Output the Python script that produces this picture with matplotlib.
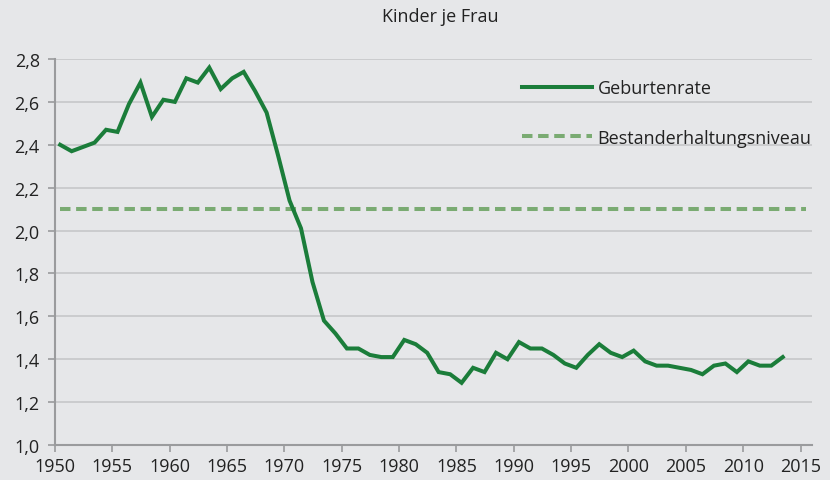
import numpy as np
import matplotlib
matplotlib.use("Agg")
import matplotlib.pyplot as plt

# Geburtenrate (Kinder je Frau), 1950-2013
years = list(range(1950, 2014))
birth_rate = [2.40, 2.37, 2.39, 2.41, 2.47, 2.46, 2.59, 2.69, 2.53, 2.61,
              2.60, 2.71, 2.69, 2.76, 2.66, 2.71, 2.74, 2.65, 2.55, 2.35,
              2.14, 2.01, 1.76, 1.58, 1.52, 1.45, 1.45, 1.42, 1.41, 1.41,
              1.49, 1.47, 1.43, 1.34, 1.33, 1.29, 1.36, 1.34, 1.43, 1.40,
              1.48, 1.45, 1.45, 1.42, 1.38, 1.36, 1.42, 1.47, 1.43, 1.41,
              1.44, 1.39, 1.37, 1.37, 1.36, 1.35, 1.33, 1.37, 1.38, 1.34,
              1.39, 1.37, 1.37, 1.41]
replacement_years = [1950, 2015]
replacement_level = [2.10, 2.10]

yticks = [1.0, 1.2, 1.4, 1.6, 1.8, 2.0, 2.2, 2.4, 2.6, 2.8]
xticks = list(range(1950, 2016, 5))

bg = "#e6e7e9"
plt.rcParams["font.family"] = ["Open Sans", "DejaVu Sans"]

fig = plt.figure(figsize=(8.3, 4.81), dpi=100, facecolor=bg)
ax = fig.add_axes([55 / 830, 1 - 446 / 481, (812 - 55) / 830, (446 - 60) / 481])
ax.set_facecolor(bg)

# points sit in the middle of each year slot
x = np.array(years) + 0.45
ax.plot(np.array(replacement_years) + 0.45, replacement_level, color="#7aab72",
        lw=2.9, dashes=(2.6, 1.4), dash_capstyle="butt",
        label="Bestanderhaltungsniveau", clip_on=False, zorder=3)
ax.plot(x, birth_rate, color="#1b7d3a", lw=2.9, label="Geburtenrate",
        solid_joinstyle="miter", clip_on=False, zorder=4)

ax.set_xlim(1950, 2016)
ax.set_ylim(1.0, 2.8)
ax.set_yticks(yticks)
ax.set_yticklabels([f"{v:.1f}".replace(".", ",") for v in yticks])
ax.set_xticks(xticks)
ax.grid(axis="y", color="#c6c7c9", lw=1.2)
ax.set_axisbelow(True)

for s in ["top", "right"]:
    ax.spines[s].set_visible(False)
for s in ["left", "bottom"]:
    ax.spines[s].set_color("#9a9b9d")
    ax.spines[s].set_linewidth(1.5)
ax.tick_params(colors="#9a9b9d", width=1.2, length=5, labelsize=13,
               labelcolor="#222222")
ax.tick_params(axis="x", pad=4)
ax.tick_params(axis="y", pad=6)

handles, labels = ax.get_legend_handles_labels()
leg = ax.legend(handles[::-1], labels[::-1], loc="upper left",
                bbox_to_anchor=(0.595, 0.99), frameon=False, fontsize=13,
                handlelength=3.9, handletextpad=0.3, labelspacing=1.75,
                labelcolor="#222222")

fig.text(440 / 830, 1 - 17 / 481, "Kinder je Frau", ha="center", va="center",
         fontsize=13, color="#222222")

fig.savefig("out.png", dpi=100, facecolor=bg)
